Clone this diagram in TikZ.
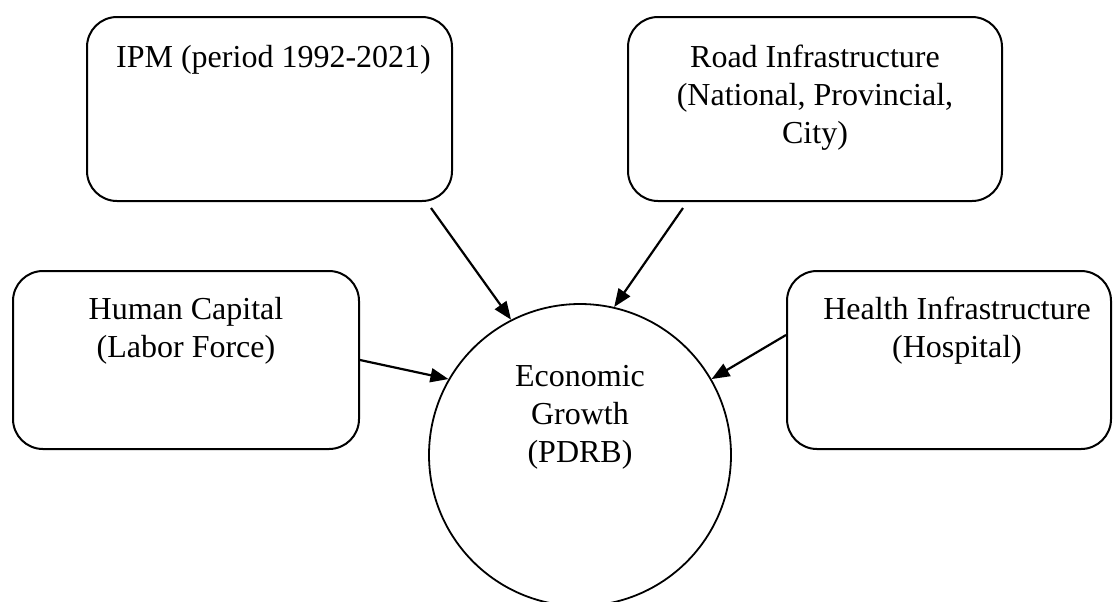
\documentclass[tikz,border=0pt]{standalone}
\usepackage{fontspec}
\setmainfont{Liberation Serif}
\usetikzlibrary{
    arrows.meta,
    positioning
}

\tikzset{
    factor/.style={draw, line width=1pt, rounded corners=15pt, inner sep=0pt},
    growth/.style={draw, circle, line width=0.9pt, inner sep=0pt, minimum size=151pt},
    caption/.style={inner sep=0pt, align=center, font=\fontsize{16}{19}\selectfont},
    infl/.style={-{Triangle[length=9pt, width=7pt]}, line width=1.1pt}
}

\begin{document}
\begin{tikzpicture}[x=0.5pt, y=-0.5pt]
    \useasboundingbox (0, 0) rectangle (1113, 601);

    \node[factor, minimum width=182.5pt, minimum height=92pt] (ipm) at (269.5, 109) {};
    \node[factor, minimum width=187pt, minimum height=92pt] (road) at (815, 109) {};
    \node[factor, minimum width=173pt, minimum height=89pt] (human) at (186, 360) {};
    \node[factor, minimum width=162pt, minimum height=89pt] (health) at (949, 360) {};
    \node[growth] (eg) at (580, 455) {};

    \node[caption, below=14.5pt of ipm.north, xshift=2pt] (ipmtxt) {IPM (period 1992-2021)};
    \node[caption, below=14.5pt of road.north] (roadtxt) {Road Infrastructure\\(National, Provincial,\\City)};
    \node[caption, below=13.5pt of human.north] (humantxt) {Human Capital\\(Labor Force)};
    \node[caption, below=13.5pt of health.north, xshift=4pt] (healthtxt) {Health Infrastructure\\(Hospital)};
    \node[caption] (egtxt) at (580, 417) {Economic\\Growth\\(PDRB)};

    \draw
    ([xshift=-11pt, yshift=-3pt]ipm.south east) edge[infl] (eg.117)
    ([xshift=28pt, yshift=-3pt]road.south west) edge[infl] (eg.77)
    (human.east) edge[infl] (eg.150)
    ([yshift=12.5pt]health.west) edge[infl] (eg.30);
\end{tikzpicture}
\end{document}
